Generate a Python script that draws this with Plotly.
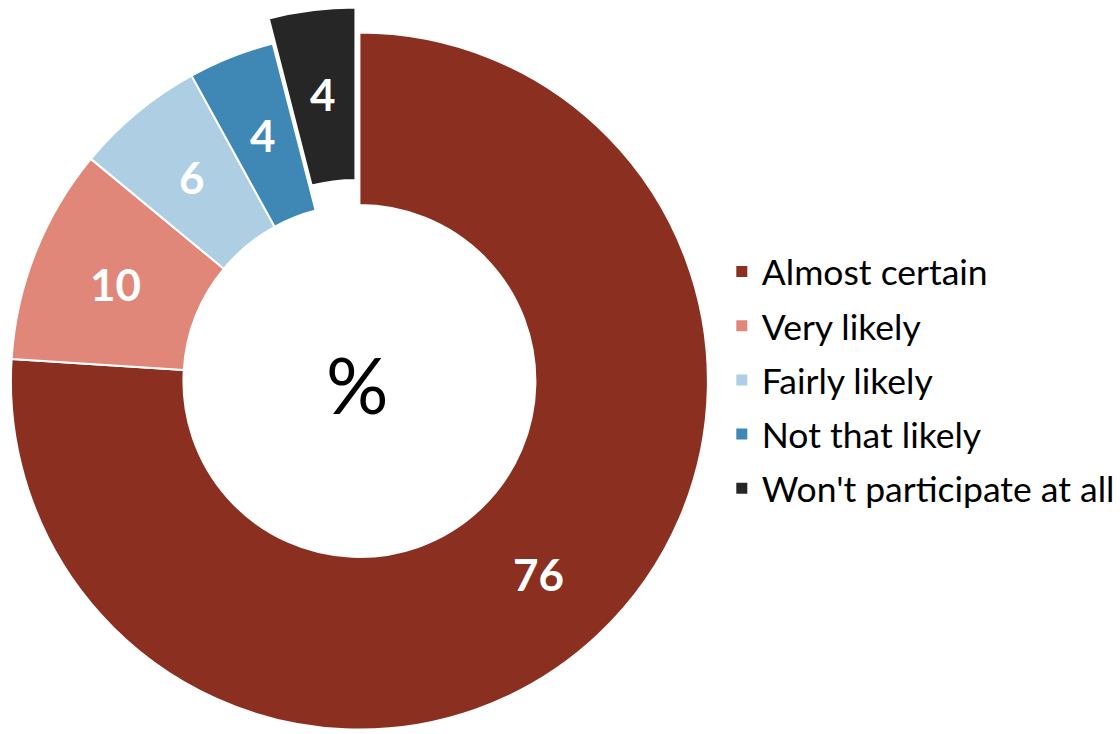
import math
import plotly.graph_objects as go

labels = ["Almost certain", "Very likely", "Fairly likely", "Not that likely", "Won't participate at all"]
values = [76, 10, 6, 4, 4]
colors = ["#8B2F20", "#E0877A", "#AECFE3", "#3F88B6", "#262626"]
center_text = "%"

W, H = 1120, 734
cx, cy, R = 362, 381, 351       # pie centre and outer radius (px)
HOLE = 0.505
pull_dx, pull_dy = -4, -25      # offset of the exploded slice (px)
exploded = 4                    # index of exploded slice
TRANSP = "rgba(0,0,0,0)"

def dom(cx_, cy_, r_):
    return dict(x=[(cx_ - r_) / W, (cx_ + r_) / W],
                y=[(H - (cy_ + r_)) / H, (H - (cy_ - r_)) / H])

# main ring (exploded slice hidden)
colA = [c if i != exploded else TRANSP for i, c in enumerate(colors)]
lineA = ["white" if i != exploded else TRANSP for i in range(len(values))]
# exploded slice only
colB = [c if i == exploded else TRANSP for i, c in enumerate(colors)]
lineB = ["white" if i == exploded else TRANSP for i in range(len(values))]

fig = go.Figure()
for cols, lines, (ccx, ccy) in [(colA, lineA, (cx, cy)),
                                (colB, lineB, (cx + pull_dx, cy + pull_dy))]:
    fig.add_trace(go.Pie(labels=labels, values=values, sort=False, direction="clockwise",
                         rotation=0, hole=HOLE, domain=dom(ccx, ccy, R),
                         marker=dict(colors=cols, line=dict(color=lines, width=2)),
                         textinfo="none", showlegend=False, hoverinfo="label+value"))

# value labels at the middle of the ring, derived from the values
total = sum(values)
cum = 0
rm = R * (1 + HOLE) / 2
for i, v in enumerate(values):
    theta = 2 * math.pi * (cum + v / 2) / total
    cum += v
    ox, oy = (pull_dx, pull_dy) if i == exploded else (0, 0)
    px = cx + ox + rm * math.sin(theta)
    py = cy + oy - rm * math.cos(theta)
    fig.add_annotation(text=str(v), x=px / W, y=(H - py) / H, xref="paper", yref="paper",
                       xanchor="center", yanchor="middle", showarrow=False,
                       font=dict(family="Lato", size=44, color="white", weight="bold"))

# legend entries
for i, (lab, col) in enumerate(zip(labels, colors)):
    fig.add_trace(go.Scatter(x=[None], y=[None], mode="markers", name=lab,
                             legendgroup=str(i),
                             marker=dict(symbol="square", size=11, color=col)))

fig.add_annotation(text=center_text, x=(cx - 2) / W, y=(H - cy - 3) / H,
                   xref="paper", yref="paper", xanchor="center", yanchor="middle",
                   showarrow=False,
                   font=dict(family="Lato", size=78, color="black"))

fig.update_layout(
    width=W, height=H, margin=dict(l=0, r=0, t=0, b=0),
    paper_bgcolor="white", plot_bgcolor="white",
    xaxis=dict(visible=False), yaxis=dict(visible=False),
    legend=dict(x=727 / W, xanchor="left", y=(H - 380) / H, yanchor="middle",
                font=dict(family="Lato", size=35.5, color="black"),
                tracegroupgap=5, bgcolor="rgba(0,0,0,0)"),
)

fig.write_html("out.html", config={"displayModeBar": False},
               post_script="document.body.style.margin='0';")
